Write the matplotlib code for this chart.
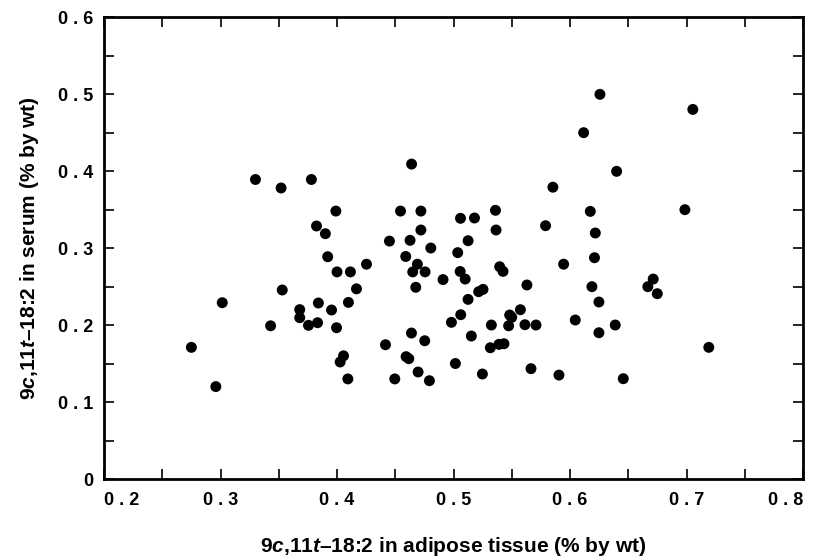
import matplotlib
matplotlib.use("Agg")
import matplotlib.pyplot as plt
from matplotlib.ticker import MultipleLocator

plt.rcParams['font.family'] = ['Liberation Sans', 'DejaVu Sans']
plt.rcParams['font.weight'] = 'bold'
plt.rcParams['mathtext.fontset'] = 'custom'
plt.rcParams['mathtext.it'] = 'Liberation Sans:italic:bold'
plt.rcParams['mathtext.rm'] = 'Liberation Sans:bold'
plt.rcParams['mathtext.bf'] = 'Liberation Sans:bold'

adipose = [0.275, 0.296, 0.3015, 0.330, 0.343, 0.352, 0.353, 0.368, 0.368, 0.3755,
           0.378, 0.3824, 0.3833, 0.384, 0.390, 0.392, 0.3953, 0.399, 0.3996, 0.400,
           0.4027, 0.4056, 0.4093, 0.4098, 0.4115, 0.4167, 0.4253, 0.4416, 0.445, 0.4496,
           0.4545, 0.459, 0.4593, 0.4616, 0.4627, 0.4639, 0.464, 0.465, 0.4676, 0.469,
           0.4696, 0.472, 0.472, 0.4753, 0.4756, 0.4793, 0.4805, 0.491, 0.4982, 0.5016,
           0.5036, 0.5060, 0.5057, 0.5062, 0.510, 0.5125, 0.5125, 0.5153, 0.518, 0.5216,
           0.5248, 0.5253, 0.5316, 0.5325, 0.536, 0.5365, 0.539, 0.5396, 0.5425, 0.5433,
           0.5473, 0.5482, 0.550, 0.5574, 0.5613, 0.563, 0.5665, 0.5708, 0.579, 0.5853,
           0.5905, 0.5945, 0.6045, 0.6117, 0.6174, 0.6188, 0.621, 0.6217, 0.6248, 0.6248,
           0.6257, 0.6388, 0.640, 0.6457, 0.6668, 0.6714, 0.6749, 0.6986, 0.7054, 0.7191]
serum = [0.171, 0.120, 0.229, 0.389, 0.199, 0.378, 0.2455, 0.220, 0.2095, 0.1996,
         0.389, 0.3286, 0.203, 0.2286, 0.3186, 0.2887, 0.2195, 0.348, 0.1965, 0.269,
         0.152, 0.160, 0.130, 0.2294, 0.269, 0.247, 0.279, 0.1744, 0.309, 0.130,
         0.348, 0.289, 0.1589, 0.1563, 0.310, 0.1896, 0.409, 0.269, 0.249, 0.279,
         0.139, 0.348, 0.3234, 0.1796, 0.269, 0.1277, 0.300, 0.259, 0.2035, 0.150,
         0.294, 0.3386, 0.2695, 0.2134, 0.2597, 0.3095, 0.2333, 0.1857, 0.339, 0.2433,
         0.1364, 0.2463, 0.1705, 0.200, 0.349, 0.3234, 0.1749, 0.2757, 0.2697, 0.1757,
         0.199, 0.213, 0.210, 0.2199, 0.2004, 0.252, 0.1433, 0.200, 0.329, 0.379,
         0.135, 0.279, 0.2065, 0.4498, 0.3476, 0.2498, 0.2874, 0.3195, 0.2299, 0.190,
         0.4996, 0.200, 0.3996, 0.1303, 0.2498, 0.2597, 0.2407, 0.3498, 0.480, 0.171]

x_ticks = [0.2, 0.3, 0.4, 0.5, 0.6, 0.7, 0.8]
x_tick_labels = ["0 . 2", "0 . 3", "0 . 4", "0 . 5", "0 . 6", "0 . 7", "0 . 8"]
y_ticks = [0, 0.1, 0.2, 0.3, 0.4, 0.5, 0.6]
y_tick_labels = ["0", "0 . 1", "0 . 2", "0 . 3", "0 . 4", "0 . 5", "0 . 6"]

fig = plt.figure(figsize=(8.17, 5.6), dpi=100)
ax = fig.add_axes([0.1273, 0.1446, 0.8556, 0.825])

ax.scatter(adipose, serum, s=62, color='black', edgecolors='none', zorder=3)

ax.set_xlim(0.2, 0.8)
ax.set_ylim(0, 0.6)
ax.set_xticks(x_ticks)
ax.set_xticklabels(x_tick_labels)
ax.set_yticks(y_ticks)
ax.set_yticklabels(y_tick_labels)
ax.xaxis.set_minor_locator(MultipleLocator(0.05))
ax.yaxis.set_minor_locator(MultipleLocator(0.05))
ax.tick_params(which='both', direction='in', top=True, right=True, length=7, width=1.2)
ax.tick_params(axis='x', which='major', labelsize=13, pad=9)
ax.tick_params(axis='y', which='major', labelsize=13, pad=8)
for lab in ax.get_xticklabels() + ax.get_yticklabels():
    lab.set_fontweight('bold')
xl = ax.get_xticklabels()
xl[0].set_horizontalalignment('left')
xl[-1].set_horizontalalignment('right')
for sp in ax.spines.values():
    sp.set_linewidth(2)

ax.set_xlabel("9$\\it{c}$,11$\\it{t}$\u201318:2 in adipose tissue (% by wt)",
              fontsize=15, fontweight='bold', labelpad=19)
ax.set_ylabel("9$\\it{c}$,11$\\it{t}$\u201318:2 in serum (% by wt)",
              fontsize=15, fontweight='bold', labelpad=12)

fig.savefig("out.png", dpi=100)
